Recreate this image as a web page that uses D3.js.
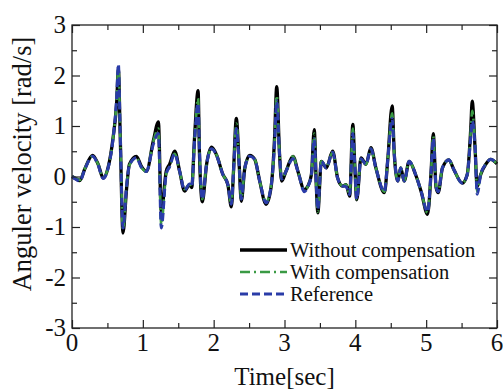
<!DOCTYPE html>
<html>
<head>
<meta charset="utf-8">
<script src="https://cdn.jsdelivr.net/npm/d3@7"></script>
<style>
  body { margin: 0; background: #fff; }
  text { font-family: "Liberation Serif", "Times New Roman", serif; fill: #111; }
</style>
</head>
<body>
<div id="chart"></div>
<script>
// time samples [sec]
const time = [0.00, 0.06, 0.11, 0.18, 0.29, 0.37, 0.44, 0.51, 0.58, 0.63, 0.655, 0.68, 0.72, 0.77, 0.81, 0.91, 0.98,
  1.05, 1.15, 1.22, 1.26, 1.33, 1.38, 1.45, 1.52, 1.59, 1.66, 1.69, 1.73, 1.78, 1.80, 1.84, 1.90, 1.97,
  2.04, 2.13, 2.20, 2.25, 2.28, 2.32, 2.36, 2.39, 2.44, 2.51, 2.58, 2.65, 2.74, 2.81, 2.86, 2.89, 2.93, 2.96,
  3.02, 3.12, 3.19, 3.28, 3.33, 3.38, 3.42, 3.45, 3.47, 3.52, 3.59, 3.68, 3.75, 3.82, 3.87, 3.92, 3.965, 3.99,
  4.02, 4.08, 4.15, 4.22, 4.29, 4.41, 4.46, 4.52, 4.55, 4.60, 4.64, 4.69, 4.76, 4.85, 4.93,
  5.02, 5.07, 5.10, 5.14, 5.17, 5.23, 5.32, 5.39, 5.51, 5.58, 5.63, 5.65, 5.69, 5.72, 5.77, 5.84, 5.91, 6.00];

const withoutComp = [0, -0.05, -0.08, 0.15, 0.42, 0.24, -0.03, 0.18, 0.77, 1.45, 2.12, 0.85, -1.12, -0.25, 0.24, 0.40, 0.20,
  0.10, 0.72, 1.08, -0.70, 0.10, 0.25, 0.50, 0.10, -0.29, -0.16, -0.22, 0.77, 1.70, 0.43, -0.50, 0.24, 0.58,
  0.43, 0.04, -0.16, -0.60, 0.10, 1.15, 0.24, -0.49, 0.17, 0.42, 0.34, -0.09, -0.55, -0.22, 0.77, 1.78, 0.44, -0.09,
  0.10, 0.40, 0.10, -0.26, -0.19, 0.04, 0.93, -0.22, -0.72, 0.30, 0.17, 0.50, -0.03, -0.19, -0.16, -0.39, 1.03, 0.30,
  -0.46, 0.37, 0.24, 0.57, 0.17, -0.32, 0.37, 1.40, 0.44, -0.09, 0.17, -0.09, 0.30, 0.04, -0.30,
  -0.75, 0.10, 0.85, -0.22, -0.32, 0.17, 0.33, 0.14, -0.13, 0.04, 0.96, 1.49, 0.57, -0.20, 0.04, 0.24, 0.34, 0.25];

const withComp = [0, -0.04, -0.07, 0.15, 0.40, 0.24, -0.02, 0.18, 0.75, 1.50, 2.18, 0.90, -1.05, -0.20, 0.22, 0.37, 0.18,
  0.10, 0.70, 0.95, -0.95, 0.05, 0.20, 0.45, 0.10, -0.25, -0.15, -0.20, 0.70, 1.55, 0.50, -0.45, 0.24, 0.55,
  0.43, 0.04, -0.16, -0.55, 0.10, 1.05, 0.24, -0.45, 0.17, 0.40, 0.34, -0.09, -0.50, -0.20, 0.70, 1.60, 0.44, -0.05,
  0.10, 0.40, 0.10, -0.26, -0.19, 0.04, 0.85, -0.20, -0.70, 0.30, 0.20, 0.48, -0.03, -0.19, -0.16, -0.36, 0.95, 0.30,
  -0.45, 0.35, 0.24, 0.55, 0.17, -0.30, 0.37, 1.25, 0.44, -0.09, 0.17, -0.09, 0.30, 0.04, -0.30,
  -0.72, 0.10, 0.80, -0.20, -0.30, 0.17, 0.33, 0.14, -0.13, 0.04, 0.90, 1.30, 0.60, -0.30, 0.04, 0.24, 0.34, 0.25];

const reference = [0, -0.06, -0.09, 0.14, 0.40, 0.22, -0.04, 0.17, 0.75, 1.55, 2.22, 0.90, -1.02, -0.20, 0.22, 0.37, 0.18,
  0.10, 0.65, 0.85, -1.02, 0.05, 0.20, 0.45, 0.10, -0.27, -0.15, -0.20, 0.70, 1.45, 0.50, -0.45, 0.24, 0.55,
  0.42, 0.04, -0.16, -0.55, 0.10, 0.95, 0.24, -0.45, 0.17, 0.40, 0.34, -0.09, -0.52, -0.20, 0.65, 1.50, 0.44, -0.05,
  0.10, 0.35, 0.10, -0.30, -0.20, 0.04, 0.75, -0.20, -0.65, 0.30, 0.17, 0.48, -0.03, -0.19, -0.20, -0.36, 0.85, 0.30,
  -0.45, 0.35, 0.24, 0.55, 0.17, -0.30, 0.37, 1.15, 0.44, -0.09, 0.17, -0.09, 0.30, 0.04, -0.30,
  -0.70, 0.10, 0.75, -0.20, -0.30, 0.17, 0.33, 0.14, -0.13, 0.04, 0.80, 1.10, 0.60, -0.35, 0.04, 0.24, 0.34, 0.25];

const xTicks = [0, 1, 2, 3, 4, 5, 6];
const yTicks = [-3, -2, -1, 0, 1, 2, 3];
const legendLabels = ["Without compensation", "With compensation", "Reference"];

const W = 503, H = 389;
const margin = { top: 25, right: 6, bottom: 61, left: 72 };
const width = W - margin.left - margin.right;
const height = H - margin.top - margin.bottom;

const svg = d3.select("#chart").append("svg")
  .attr("width", W)
  .attr("height", H);

const g = svg.append("g")
  .attr("transform", `translate(${margin.left},${margin.top})`);

const x = d3.scaleLinear().domain([0, 6]).range([0, width]);
const y = d3.scaleLinear().domain([-3, 3]).range([height, 0]);

// curves
const series = [
  { name: legendLabels[0], values: withoutComp, color: "#000000", w: 3.3, dash: null },
  { name: legendLabels[1], values: withComp, color: "#3a9a44", w: 2.6, dash: "10,4,2,4" },
  { name: legendLabels[2], values: reference, color: "#2a3ca8", w: 3, dash: "8,4" }
];

const line = d3.line()
  .x(d => x(d[0]))
  .y(d => y(d[1]))
  .curve(d3.curveMonotoneX);

g.selectAll(".series")
  .data(series)
  .enter()
  .append("path")
  .attr("class", "series")
  .attr("fill", "none")
  .attr("stroke", d => d.color)
  .attr("stroke-width", d => d.w)
  .attr("stroke-dasharray", d => d.dash)
  .attr("stroke-linejoin", "round")
  .attr("d", d => line(time.map((t, i) => [t, d.values[i]])));

// frame
g.append("rect")
  .attr("width", width)
  .attr("height", height)
  .attr("fill", "none")
  .attr("stroke", "#222")
  .attr("stroke-width", 1.3);

// axes with inward ticks, minor at 0.5
const minorX = d3.range(0.5, 6, 1);
const minorY = d3.range(-2.5, 3, 1);

function tickAxis(axisFn, scale, vals, size, transform) {
  return g.append("g")
    .attr("transform", transform)
    .call(axisFn(scale).tickValues(vals).tickSize(size).tickFormat(""))
    .call(s => s.select(".domain").remove())
    .call(s => s.selectAll("line").attr("stroke", "#222").attr("stroke-width", 1.2));
}

tickAxis(d3.axisTop, x, xTicks, 8, `translate(0,${height})`);
tickAxis(d3.axisTop, x, minorX, 5, `translate(0,${height})`);
tickAxis(d3.axisBottom, x, xTicks, 8, "translate(0,0)");
tickAxis(d3.axisBottom, x, minorX, 5, "translate(0,0)");
tickAxis(d3.axisRight, y, yTicks, 8, "translate(0,0)");
tickAxis(d3.axisRight, y, minorY, 5, "translate(0,0)");
tickAxis(d3.axisLeft, y, yTicks, 8, `translate(${width},0)`);
tickAxis(d3.axisLeft, y, minorY, 5, `translate(${width},0)`);

// tick labels
g.selectAll(".xl")
  .data(xTicks)
  .enter().append("text")
  .attr("x", d => x(d))
  .attr("y", height + 23)
  .attr("text-anchor", "middle")
  .attr("font-size", 25)
  .text(d => d);

g.selectAll(".yl")
  .data(yTicks)
  .enter().append("text")
  .attr("x", -6)
  .attr("y", d => y(d) + 8)
  .attr("text-anchor", "end")
  .attr("font-size", 25)
  .text(d => d);

// axis titles
svg.append("text")
  .attr("x", margin.left + width / 2)
  .attr("y", 385)
  .attr("text-anchor", "middle")
  .attr("font-size", 25)
  .text("Time[sec]");

svg.append("text")
  .attr("transform", `translate(31,${margin.top + 139}) rotate(-90)`)
  .attr("text-anchor", "middle")
  .attr("font-size", 26.5)
  .text("Anguler velocity [rad/s]");

// legend
const legend = svg.append("g").attr("transform", "translate(240,250)");
series.forEach((s, i) => {
  const row = legend.append("g").attr("transform", `translate(0,${i * 22})`);
  row.append("line")
    .attr("x1", 0).attr("x2", 47)
    .attr("stroke", s.color)
    .attr("stroke-width", s.w)
    .attr("stroke-dasharray", s.dash);
  row.append("text")
    .attr("x", 50)
    .attr("y", 7)
    .attr("font-size", 20.5)
    .text(s.name);
});
</script>
</body>
</html>
